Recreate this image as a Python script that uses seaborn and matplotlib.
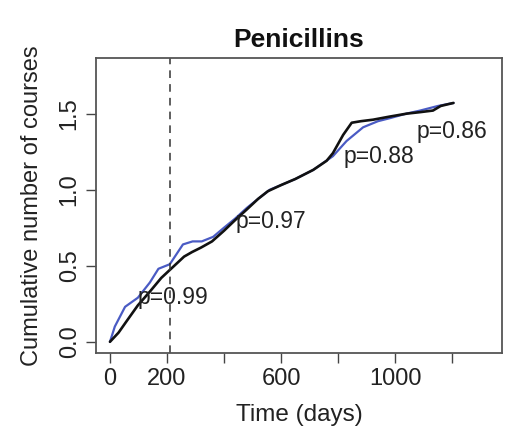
import matplotlib
matplotlib.use("Agg")
import matplotlib.pyplot as plt
import seaborn as sns
import pandas as pd

# ---- data ----
black_days = [0, 30, 60, 98, 140, 180, 220, 260, 288, 320, 358, 400, 439, 480, 520, 554,
              600, 650, 713, 760, 782, 800, 818, 848, 880, 923, 980, 1042, 1090, 1133,
              1160, 1182, 1205]
black_vals = [0.0, 0.06, 0.14, 0.24, 0.33, 0.42, 0.49, 0.56, 0.59, 0.62, 0.66, 0.73, 0.80,
              0.87, 0.94, 0.99, 1.03, 1.07, 1.13, 1.19, 1.24, 1.30, 1.36, 1.44, 1.45, 1.46,
              1.48, 1.50, 1.51, 1.52, 1.55, 1.56, 1.57]
blue_days = [0, 17, 53, 98, 140, 170, 210, 256, 290, 322, 362, 400, 439, 480, 520, 561,
             600, 650, 713, 782, 830, 888, 940, 982, 1040, 1088, 1150, 1205]
blue_vals = [0.0, 0.10, 0.23, 0.29, 0.39, 0.48, 0.51, 0.64, 0.66, 0.66, 0.69, 0.75, 0.81,
             0.88, 0.94, 1.00, 1.03, 1.07, 1.13, 1.22, 1.32, 1.41, 1.45, 1.47, 1.50, 1.52,
             1.55, 1.57]
cutoff_day = 210
p_labels = ["p=0.99", "p=0.97", "p=0.88", "p=0.86"]
p_x = [98, 439, 818, 1077]
p_y = [0.29, 0.79, 1.22, 1.38]
x_ticks = [0, 200, 400, 600, 800, 1000, 1200]
x_ticklabels = ["0", "200", "", "600", "", "1000", ""]
y_ticks = [0.0, 0.5, 1.0, 1.5]
y_ticklabels = ["0.0", "0.5", "1.0", "1.5"]

sns.set_style("white")
plt.rcParams["font.family"] = ["Liberation Sans", "DejaVu Sans"]

fig = plt.figure(figsize=(5.06, 4.29), dpi=100)
ax = fig.add_axes([0.1897, 0.177, 0.8023, 0.688])

black_df = pd.DataFrame({"day": black_days, "val": black_vals})
blue_df = pd.DataFrame({"day": blue_days, "val": blue_vals})

sns.lineplot(data=blue_df, x="day", y="val", ax=ax, color="#4a5bc4", linewidth=1.6,
             estimator=None, sort=False)
sns.lineplot(data=black_df, x="day", y="val", ax=ax, color="#111111", linewidth=1.9,
             estimator=None, sort=False)

ax.axvline(cutoff_day, color="#333333", linestyle=(0, (5, 4)), linewidth=1.1)

for lab, x, y in zip(p_labels, p_x, p_y):
    ax.text(x, y, lab, ha="left", va="center", fontsize=16.5, color="#222222")

ax.set_xlim(-49, 1375)
ax.set_ylim(-0.074, 1.866)
ax.set_xticks(x_ticks)
ax.set_xticklabels(x_ticklabels, fontsize=17, color="#222222")
ax.set_yticks(y_ticks)
ax.set_yticklabels(y_ticklabels, fontsize=17, color="#222222", rotation=90, va="center")
ax.tick_params(axis="both", direction="out", length=7, width=1, color="#444444",
               bottom=True, left=True, pad=4)

for s in ax.spines.values():
    s.set_visible(True)
    s.set_color("#555555")
    s.set_linewidth(1.3)

ax.set_xlabel("Time (days)", fontsize=17.5, color="#222222", labelpad=10)
ax.set_ylabel("Cumulative number of courses", fontsize=17, color="#222222", labelpad=11)
ax.set_title("Penicillins", fontsize=19, fontweight="bold", color="#111111", pad=8)

fig.savefig("out.png", dpi=100)
